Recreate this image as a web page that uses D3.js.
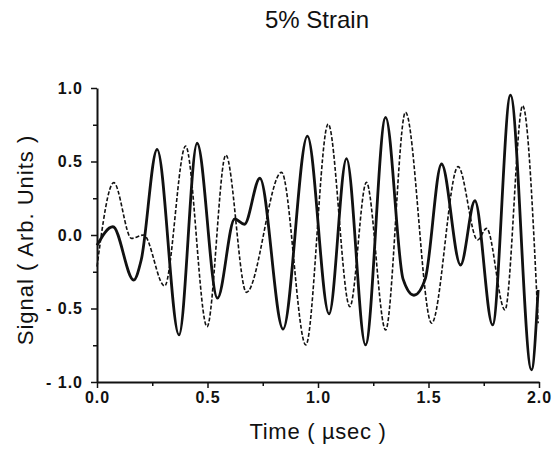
<!DOCTYPE html>
<html>
<head>
<meta charset="utf-8">
<script src="https://cdn.jsdelivr.net/npm/d3@7"></script>
<style>
  body { margin: 0; background: #fff; }
  svg text { font-family: "Liberation Sans", Arial, Helvetica, sans-serif; fill: #111; }
</style>
</head>
<body>
<div id="chart"></div>
<script>
// Solid trace: extrema (time in usec, signal)
const solidTime = [0.0, 0.072, 0.166, 0.20, 0.272, 0.371, 0.453, 0.545, 0.623, 0.667, 0.737, 0.842, 0.952, 1.050, 1.129, 1.215, 1.306, 1.385, 1.434, 1.485, 1.559, 1.645, 1.710, 1.790, 1.871, 1.966, 1.996];
const solidSignal = [-0.07, 0.056, -0.306, -0.17, 0.583, -0.68, 0.624, -0.43, 0.109, 0.073, 0.386, -0.64, 0.673, -0.537, 0.52, -0.748, 0.80, -0.30, -0.41, -0.30, 0.483, -0.204, 0.233, -0.612, 0.952, -0.918, -0.374];

// Dashed trace
const dashTime = [0.0, 0.076, 0.156, 0.211, 0.306, 0.401, 0.498, 0.583, 0.676, 0.835, 0.945, 1.046, 1.144, 1.219, 1.306, 1.396, 1.514, 1.634, 1.722, 1.763, 1.846, 1.926, 1.996];
const dashSignal = [-0.215, 0.356, -0.023, 0.0, -0.347, 0.605, -0.624, 0.544, -0.39, 0.426, -0.748, 0.755, -0.488, 0.358, -0.646, 0.835, -0.60, 0.465, -0.034, 0.045, -0.51, 0.88, -0.60];

const xTicks = [0, 0.25, 0.5, 0.75, 1.0, 1.25, 1.5, 1.75, 2.0];
const yTicks = [-1.0, -0.75, -0.5, -0.25, 0, 0.25, 0.5, 0.75, 1.0];

const title = "5% Strain";
const xLabel = "Time ( \u00b5sec )";
const yLabel = "Signal ( Arb. Units )";

const width = 554, height = 449;
const margin = { top: 88, right: 15, bottom: 67, left: 97 };
const innerW = width - margin.left - margin.right;
const innerH = height - margin.top - margin.bottom;

const svg = d3.select("#chart").append("svg")
  .attr("width", width)
  .attr("height", height);

const g = svg.append("g")
  .attr("transform", "translate(" + margin.left + "," + margin.top + ")");

const x = d3.scaleLinear().domain([0, 2]).range([0, innerW]);
const y = d3.scaleLinear().domain([-1, 1]).range([innerH, 0]);

const isMajor = d => Math.abs(d * 2 - Math.round(d * 2)) < 1e-6;

// x axis
const xAxis = g.append("g")
  .attr("transform", "translate(0," + innerH + ")")
  .call(d3.axisBottom(x).tickValues(xTicks).tickSizeOuter(0)
    .tickFormat(d => isMajor(d) ? d.toFixed(1) : ""));

// y axis
const yAxis = g.append("g")
  .call(d3.axisLeft(y).tickValues(yTicks).tickSizeOuter(0)
    .tickFormat(d => isMajor(d) ? (d < 0 ? "- " + Math.abs(d).toFixed(1) : d.toFixed(1)) : ""));

[xAxis, yAxis].forEach(ax => {
  ax.select(".domain").attr("stroke", "#111").attr("stroke-width", 2);
  ax.selectAll(".tick line").attr("stroke", "#111").attr("stroke-width", 1.5)
    .attr(ax === xAxis ? "y2" : "x2", d => (isMajor(d) ? 6 : 4) * (ax === xAxis ? 1 : -1));
  ax.selectAll(".tick text")
    .style("font-size", "16px")
    .style("font-weight", "bold")
    .style("letter-spacing", "1px");
});
xAxis.selectAll(".tick text").attr("y", 21).attr("dy", 0);
yAxis.selectAll(".tick text").attr("x", -14);

// traces
const line = d3.line()
  .x(d => x(d[0]))
  .y(d => y(d[1]))
  .curve(d3.curveMonotoneX);

const dashData = d3.zip(dashTime, dashSignal);
const solidData = d3.zip(solidTime, solidSignal);

g.append("path")
  .datum(dashData)
  .attr("fill", "none")
  .attr("stroke", "#111")
  .attr("stroke-width", 1.6)
  .attr("stroke-dasharray", "4,2")
  .attr("d", line);

g.append("path")
  .datum(solidData)
  .attr("fill", "none")
  .attr("stroke", "#111")
  .attr("stroke-width", 2.8)
  .attr("d", line);

// titles
svg.append("text")
  .attr("x", 317)
  .attr("y", 28)
  .attr("text-anchor", "middle")
  .style("font-size", "24px")
  .text(title);

svg.append("text")
  .attr("x", 318)
  .attr("y", 439)
  .attr("text-anchor", "middle")
  .style("font-size", "22px")
  .style("letter-spacing", "0.7px")
  .text(xLabel);

svg.append("text")
  .attr("transform", "translate(33," + (margin.top + innerH / 2 + 5) + ") rotate(-90)")
  .attr("text-anchor", "middle")
  .style("font-size", "22px")
  .style("letter-spacing", "1px")
  .text(yLabel);
</script>
</body>
</html>
